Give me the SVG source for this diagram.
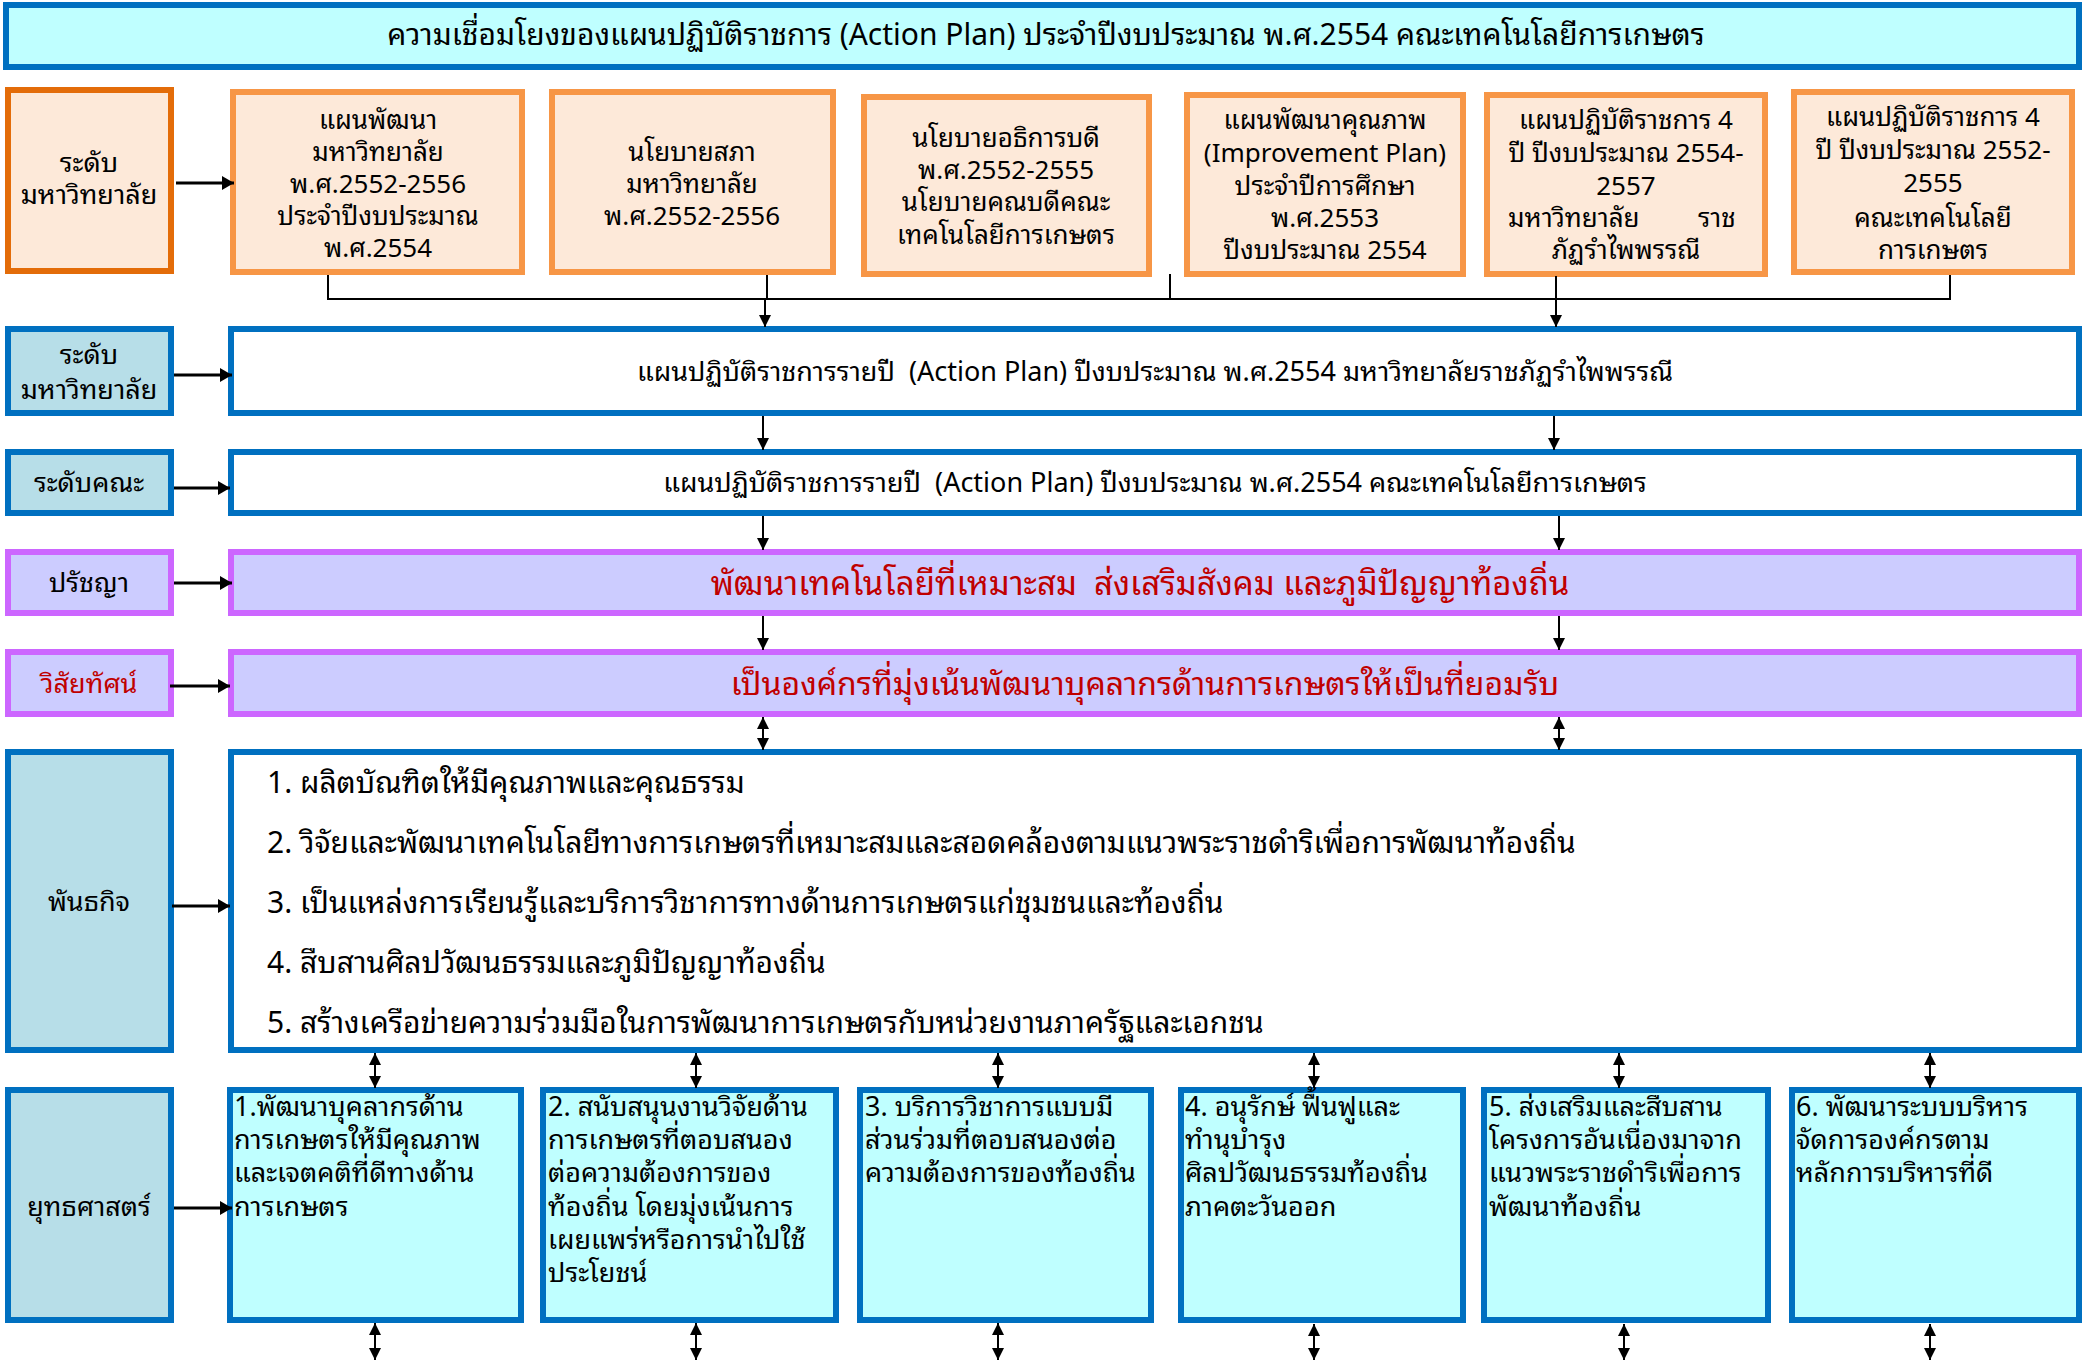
<svg xmlns="http://www.w3.org/2000/svg" width="2083" height="1362" viewBox="0 0 2083 1362">
<defs>
<style>
text{font-family:"Noto Sans Thai Looped","Noto Sans","Noto Sans Thai","Liberation Sans",sans-serif;fill:#000}
.c{text-anchor:middle}
.f26{font-size:26px}
.f27{font-size:27px}
.f30{font-size:30px}
.f32{font-size:32px}
.f33{font-size:33px}
.red{fill:#C00000}
.lblO{fill:#FDE9D9;stroke:#E36C09;stroke-width:6}
.boxO{fill:#FDE9D9;stroke:#F79646;stroke-width:6}
.lblB{fill:#B7DEE8;stroke:#0070C0;stroke-width:6}
.boxW{fill:#FFFFFF;stroke:#0070C0;stroke-width:6}
.boxC{fill:#BFFFFF;stroke:#0070C0;stroke-width:6}
.boxP{fill:#CCCCFF;stroke:#CC66FF;stroke-width:6}
.ln{stroke:#000;stroke-width:2;fill:none}
.ar{stroke:#000;stroke-width:2;fill:none;marker-end:url(#ah)}
.arh{stroke:#000;stroke-width:3;fill:none;marker-end:url(#ahb)}
.dar{stroke:#000;stroke-width:2;fill:none;marker-start:url(#ah);marker-end:url(#ah)}
</style>
<marker id="ah" markerUnits="userSpaceOnUse" markerWidth="12" markerHeight="12" refX="12" refY="6" orient="auto-start-reverse"><path d="M0,0 L12,6 L0,12 Z" fill="#000"/></marker>
<marker id="ahb" markerUnits="userSpaceOnUse" markerWidth="12" markerHeight="14" refX="12" refY="7" orient="auto"><path d="M0,0 L12,7 L0,14 Z" fill="#000"/></marker>
</defs>
<rect width="2083" height="1362" fill="#FFFFFF"/>

<g id="title">
<rect x="6" y="5" width="2073" height="62" class="boxC"/>
<text x="1046" y="45" class="c f30">ความเชื่อมโยงของแผนปฏิบัติราชการ (Action Plan) ประจำปีงบประมาณ พ.ศ.2554 คณะเทคโนโลยีการเกษตร</text>
</g>

<g id="lbl-univ1">
<rect x="8" y="90" width="163" height="181" class="lblO"/>
<text x="89" y="172" class="c f27">ระดับ</text>
<text x="89" y="204" class="c f27">มหาวิทยาลัย</text>
</g>
<g id="plan1">
<rect x="233" y="92" width="289" height="180" class="boxO"/>
<text class="c f26"><tspan x="378" y="129">แผนพัฒนา</tspan><tspan x="378" y="161">มหาวิทยาลัย</tspan><tspan x="378" y="193">พ.ศ.2552-2556</tspan><tspan x="378" y="225">ประจำปีงบประมาณ</tspan><tspan x="378" y="257">พ.ศ.2554</tspan></text>
</g>
<g id="plan2">
<rect x="552" y="92" width="281" height="180" class="boxO"/>
<text class="c f26"><tspan x="692" y="161">นโยบายสภา</tspan><tspan x="692" y="193">มหาวิทยาลัย</tspan><tspan x="692" y="225">พ.ศ.2552-2556</tspan></text>
</g>
<g id="plan3">
<rect x="864" y="97" width="285" height="177" class="boxO"/>
<text class="c f26"><tspan x="1006" y="147">นโยบายอธิการบดี</tspan><tspan x="1006" y="179">พ.ศ.2552-2555</tspan><tspan x="1006" y="211">นโยบายคณบดีคณะ</tspan><tspan x="1006" y="244">เทคโนโลยีการเกษตร</tspan></text>
</g>
<g id="plan4">
<rect x="1187" y="95" width="276" height="179" class="boxO"/>
<text class="c f26"><tspan x="1325" y="129">แผนพัฒนาคุณภาพ</tspan><tspan x="1325" y="162">(Improvement Plan)</tspan><tspan x="1325" y="195">ประจำปีการศึกษา</tspan><tspan x="1325" y="227">พ.ศ.2553</tspan><tspan x="1325" y="259">ปีงบประมาณ 2554</tspan></text>
</g>
<g id="plan5">
<rect x="1487" y="95" width="278" height="179" class="boxO"/>
<text class="f26"><tspan x="1626" y="129" text-anchor="middle">แผนปฏิบัติราชการ 4</tspan><tspan x="1626" y="162" text-anchor="middle">ปี ปีงบประมาณ 2554-</tspan><tspan x="1626" y="195" text-anchor="middle">2557</tspan><tspan x="1508" y="227">มหาวิทยาลัย</tspan><tspan x="1698" y="227">ราช</tspan><tspan x="1626" y="259" text-anchor="middle">ภัฏรำไพพรรณี</tspan></text>
</g>
<g id="plan6">
<rect x="1794" y="92" width="278" height="180" class="boxO"/>
<text class="c f26"><tspan x="1933" y="126">แผนปฏิบัติราชการ 4</tspan><tspan x="1933" y="159">ปี ปีงบประมาณ 2552-</tspan><tspan x="1933" y="192">2555</tspan><tspan x="1933" y="227">คณะเทคโนโลยี</tspan><tspan x="1933" y="259">การเกษตร</tspan></text>
</g>

<g id="lbl-univ2">
<rect x="8" y="329" width="163" height="84" class="lblB"/>
<text x="89" y="364" class="c f27">ระดับ</text>
<text x="89" y="399" class="c f27">มหาวิทยาลัย</text>
</g>
<g id="univ-plan">
<rect x="231" y="329" width="1848" height="84" class="boxW"/>
<text x="1155" y="381" class="c f27" xml:space="preserve">แผนปฏิบัติราชการรายปี  (Action Plan) ปีงบประมาณ พ.ศ.2554 มหาวิทยาลัยราชภัฏรำไพพรรณี</text>
</g>

<g id="lbl-fac">
<rect x="8" y="452" width="163" height="61" class="lblB"/>
<text x="89" y="492" class="c f27">ระดับคณะ</text>
</g>
<g id="fac-plan">
<rect x="231" y="452" width="1848" height="61" class="boxW"/>
<text x="1155" y="492" class="c f27" xml:space="preserve">แผนปฏิบัติราชการรายปี  (Action Plan) ปีงบประมาณ พ.ศ.2554 คณะเทคโนโลยีการเกษตร</text>
</g>

<g id="lbl-phil">
<rect x="8" y="552" width="163" height="61" class="boxP"/>
<text x="89" y="592" class="c f27">ปรัชญา</text>
</g>
<g id="philosophy">
<rect x="231" y="552" width="1848" height="61" class="boxP"/>
<text x="1140" y="595" class="c f33 red" xml:space="preserve">พัฒนาเทคโนโลยีที่เหมาะสม  ส่งเสริมสังคม และภูมิปัญญาท้องถิ่น</text>
</g>

<g id="lbl-vision">
<rect x="8" y="652" width="163" height="62" class="boxP"/>
<text x="89" y="693" class="c f27 red">วิสัยทัศน์</text>
</g>
<g id="vision">
<rect x="231" y="652" width="1848" height="62" class="boxP"/>
<text x="1145" y="695" class="c f32 red">เป็นองค์กรที่มุ่งเน้นพัฒนาบุคลากรด้านการเกษตรให้เป็นที่ยอมรับ</text>
</g>

<g id="lbl-mission">
<rect x="8" y="752" width="163" height="298" class="lblB"/>
<text x="89" y="911" class="c f27">พันธกิจ</text>
</g>
<g id="mission">
<rect x="231" y="752" width="1848" height="298" class="boxW"/>
<text class="f30"><tspan x="267" y="793">1. ผลิตบัณฑิตให้มีคุณภาพและคุณธรรม</tspan><tspan x="267" y="853">2. วิจัยและพัฒนาเทคโนโลยีทางการเกษตรที่เหมาะสมและสอดคล้องตามแนวพระราชดำริเพื่อการพัฒนาท้องถิ่น</tspan><tspan x="267" y="913">3. เป็นแหล่งการเรียนรู้และบริการวิชาการทางด้านการเกษตรแก่ชุมชนและท้องถิ่น</tspan><tspan x="267" y="973">4. สืบสานศิลปวัฒนธรรมและภูมิปัญญาท้องถิ่น</tspan><tspan x="267" y="1033">5. สร้างเครือข่ายความร่วมมือในการพัฒนาการเกษตรกับหน่วยงานภาครัฐและเอกชน</tspan></text>
</g>

<g id="lbl-strategy">
<rect x="8" y="1090" width="163" height="230" class="lblB"/>
<text x="89" y="1216" class="c f27">ยุทธศาสตร์</text>
</g>
<g id="s1">
<rect x="230" y="1090" width="291" height="230" class="boxC"/>
<text class="f27"><tspan x="234" y="1116">1.พัฒนาบุคลากรด้าน</tspan><tspan x="234" y="1149">การเกษตรให้มีคุณภาพ</tspan><tspan x="234" y="1182">และเจตคติที่ดีทางด้าน</tspan><tspan x="234" y="1216">การเกษตร</tspan></text>
</g>
<g id="s2">
<rect x="543" y="1090" width="293" height="230" class="boxC"/>
<text class="f27"><tspan x="548" y="1116">2. สนับสนุนงานวิจัยด้าน</tspan><tspan x="548" y="1149">การเกษตรที่ตอบสนอง</tspan><tspan x="548" y="1182">ต่อความต้องการของ</tspan><tspan x="548" y="1216">ท้องถิ่น โดยมุ่งเน้นการ</tspan><tspan x="548" y="1249">เผยแพร่หรือการนำไปใช้</tspan><tspan x="548" y="1282">ประโยชน์</tspan></text>
</g>
<g id="s3">
<rect x="860" y="1090" width="291" height="230" class="boxC"/>
<text class="f27"><tspan x="865" y="1116">3. บริการวิชาการแบบมี</tspan><tspan x="865" y="1149">ส่วนร่วมที่ตอบสนองต่อ</tspan><tspan x="865" y="1182">ความต้องการของท้องถิ่น</tspan></text>
</g>
<g id="s4">
<rect x="1181" y="1090" width="282" height="230" class="boxC"/>
<text class="f27"><tspan x="1185" y="1116">4. อนุรักษ์ ฟื้นฟูและ</tspan><tspan x="1185" y="1149">ทำนุบำรุง</tspan><tspan x="1185" y="1182">ศิลปวัฒนธรรมท้องถิ่น</tspan><tspan x="1185" y="1216">ภาคตะวันออก</tspan></text>
</g>
<g id="s5">
<rect x="1484" y="1090" width="284" height="230" class="boxC"/>
<text class="f27"><tspan x="1489" y="1116">5. ส่งเสริมและสืบสาน</tspan><tspan x="1489" y="1149">โครงการอันเนื่องมาจาก</tspan><tspan x="1489" y="1182">แนวพระราชดำริเพื่อการ</tspan><tspan x="1489" y="1216">พัฒนาท้องถิ่น</tspan></text>
</g>
<g id="s6">
<rect x="1792" y="1090" width="287" height="230" class="boxC"/>
<text class="f27"><tspan x="1796" y="1116">6. พัฒนาระบบบริหาร</tspan><tspan x="1796" y="1149">จัดการองค์กรตาม</tspan><tspan x="1796" y="1182">หลักการบริหารที่ดี</tspan></text>
</g>

<g id="connectors">
<path class="arh" d="M176,183 H234"/>
<path class="arh" d="M174,375 H232"/>
<path class="arh" d="M174,488 H230"/>
<path class="arh" d="M174,583 H232"/>
<path class="arh" d="M170,686 H230"/>
<path class="arh" d="M172,906 H230"/>
<path class="arh" d="M174,1208 H232"/>

<path class="ln" d="M328,275 V299 H1950 V275"/>
<path class="ln" d="M767,275 V299"/>
<path class="ln" d="M1170,274 V299"/>
<path class="ln" d="M1556,276 V299"/>
<path class="ar" d="M765,299 V327"/>
<path class="ar" d="M1556,299 V327"/>

<path class="ar" d="M763,416 V450"/>
<path class="ar" d="M1554,416 V450"/>
<path class="ar" d="M763,516 V550"/>
<path class="ar" d="M1559,516 V550"/>
<path class="ar" d="M763,616 V650"/>
<path class="ar" d="M1559,616 V650"/>

<path class="dar" d="M763,717 V750"/>
<path class="dar" d="M1559,717 V750"/>

<path class="dar" d="M375,1053 V1088"/>
<path class="dar" d="M696,1053 V1088"/>
<path class="dar" d="M998,1053 V1088"/>
<path class="dar" d="M1314,1053 V1088"/>
<path class="dar" d="M1619,1053 V1088"/>
<path class="dar" d="M1930,1053 V1088"/>

<path class="dar" d="M375,1323 V1360"/>
<path class="dar" d="M696,1323 V1360"/>
<path class="dar" d="M998,1323 V1360"/>
<path class="dar" d="M1314,1324 V1360"/>
<path class="dar" d="M1624,1324 V1360"/>
<path class="dar" d="M1930,1324 V1360"/>
</g>
</svg>
